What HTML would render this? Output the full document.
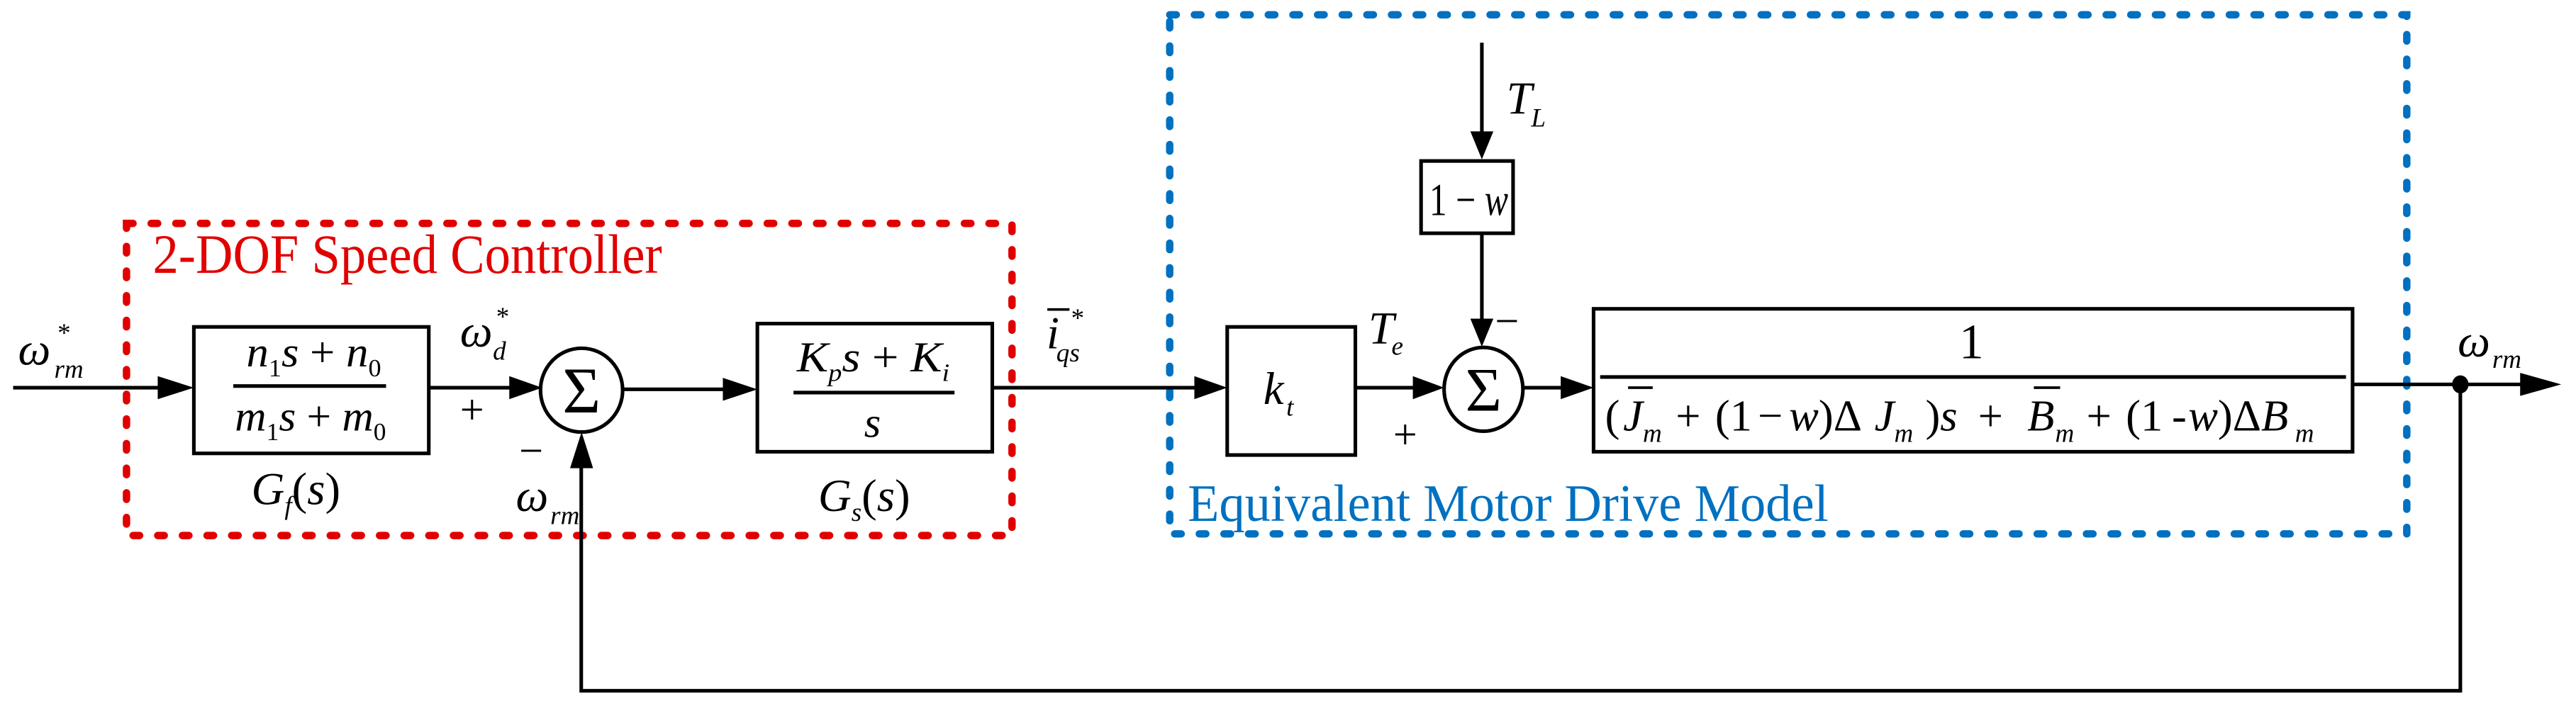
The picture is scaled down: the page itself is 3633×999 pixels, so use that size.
<!DOCTYPE html>
<html><head><meta charset="utf-8"><style>
html,body{margin:0;padding:0;background:#fff;}
svg{display:block;}
text{font-family:"Liberation Serif",serif;fill:#000;}
.i{font-style:italic;}
</style></head><body>
<svg width="3633" height="999" viewBox="0 0 1568 431" preserveAspectRatio="none" xmlns="http://www.w3.org/2000/svg">
<rect x="77" y="136" width="539" height="190" fill="none" stroke="#e00000" stroke-width="4.5" stroke-dasharray="4 11" stroke-linecap="round"/>
<rect x="712" y="9" width="753" height="316" fill="none" stroke="#0070c0" stroke-width="4.5" stroke-dasharray="4 11" stroke-linecap="round"/>
<text x="93" y="166" font-size="34" style="fill:#e00000" textLength="310" lengthAdjust="spacingAndGlyphs">2-DOF Speed Controller</text>
<text x="723" y="317" font-size="32" style="fill:#0070c0" textLength="390" lengthAdjust="spacingAndGlyphs">Equivalent Motor Drive Model</text>

<g stroke="#000" stroke-width="2.2" fill="none">
<rect x="118" y="199" width="143" height="77"/>
<rect x="461" y="197" width="143" height="78"/>
<rect x="747" y="199" width="78" height="78"/>
<rect x="865" y="98" width="56" height="44"/>
<rect x="970" y="188" width="462" height="87"/>
<line x1="142" y1="235" x2="235" y2="235"/>
<line x1="483" y1="239" x2="581" y2="239"/>
<line x1="974" y1="229.5" x2="1428" y2="229.5"/>
<ellipse cx="354" cy="237.5" rx="25" ry="25.5"/>
<ellipse cx="903" cy="237" rx="24" ry="25.5"/>
<line x1="8" y1="236" x2="100" y2="236"/>
<line x1="261" y1="236" x2="312" y2="236"/>
<line x1="379" y1="237" x2="444" y2="237"/>
<line x1="604" y1="236" x2="730" y2="236"/>
<line x1="825" y1="236" x2="862" y2="236"/>
<line x1="927" y1="236" x2="954" y2="236"/>
<line x1="1432" y1="234" x2="1538" y2="234"/>
<line x1="902" y1="26" x2="902" y2="82"/>
<line x1="902" y1="142" x2="902" y2="196"/>
<polyline points="1497.6,234 1497.6,420.5 353.8,420.5 353.8,283"/>
</g>
<g fill="#000">
<polygon points="96,229 118,236 96,243"/>
<polygon points="310,229 330,236 310,243"/>
<polygon points="440,230 461,237 440,244"/>
<polygon points="727,229 747,236 727,243"/>
<polygon points="860,229 879,236 860,243"/>
<polygon points="950,229 970,236 950,243"/>
<polygon points="1534,227 1559,234 1534,241"/>
<polygon points="895,80 902,97 909,80"/>
<polygon points="895,194 902,211 909,194"/>
<polygon points="347,285 354,263 361,285"/>
<ellipse cx="1497.6" cy="234" rx="5" ry="5.5"/>
</g>

<text x="354" y="251" font-size="40" text-anchor="middle">Σ</text>
<text x="903" y="250" font-size="38" text-anchor="middle">Σ</text>

<text class="i" x="11" y="222" font-size="28">ω</text>
<text class="i" x="33" y="230" font-size="16">rm</text>
<text x="35" y="208" font-size="16">*</text>

<text class="i" x="150" y="223" font-size="26" textLength="82" lengthAdjust="spacingAndGlyphs">n<tspan font-size="15" font-style="normal" dy="6">1</tspan><tspan dy="-6">s</tspan><tspan font-style="normal"> + </tspan>n<tspan font-size="15" font-style="normal" dy="6">0</tspan></text>
<text class="i" x="143" y="262" font-size="26" textLength="92" lengthAdjust="spacingAndGlyphs">m<tspan font-size="15" font-style="normal" dy="6">1</tspan><tspan dy="-6">s</tspan><tspan font-style="normal"> + </tspan>m<tspan font-size="15" font-style="normal" dy="6">0</tspan></text>
<text class="i" x="153" y="307" font-size="28">G<tspan font-size="16" dy="6">f</tspan><tspan font-style="normal" dy="-6">(</tspan>s<tspan font-style="normal">)</tspan></text>

<text class="i" x="280" y="211" font-size="28">ω</text>
<text class="i" x="300" y="219" font-size="16">d</text>
<text x="302" y="198" font-size="16">*</text>
<text x="280" y="258" font-size="26">+</text>
<text x="316" y="283" font-size="26">−</text>
<text class="i" x="314" y="311" font-size="28">ω</text>
<text class="i" x="335" y="319" font-size="16">rm</text>

<text class="i" x="485" y="226" font-size="26" textLength="93" lengthAdjust="spacingAndGlyphs">K<tspan font-size="15" dy="6">p</tspan><tspan dy="-6">s</tspan><tspan font-style="normal"> + </tspan>K<tspan font-size="15" dy="6">i</tspan></text>
<text class="i" x="526" y="266" font-size="26">s</text>
<text class="i" x="498" y="311" font-size="28">G<tspan font-size="16" dy="6">s</tspan><tspan font-style="normal" dy="-6">(</tspan>s<tspan font-style="normal">)</tspan></text>

<line x1="637.5" y1="188.4" x2="651" y2="188.4" stroke="#000" stroke-width="1.6"/>
<text class="i" x="637" y="212" font-size="28">i</text>
<text class="i" x="643" y="220" font-size="16">qs</text>
<text x="652" y="199" font-size="16">*</text>

<text class="i" x="769" y="246" font-size="28">k</text>
<text class="i" x="783" y="253" font-size="16">t</text>
<text class="i" x="833" y="209" font-size="28">T</text>
<text class="i" x="847" y="216" font-size="16">e</text>
<text x="848" y="273" font-size="26">+</text>
<text x="910" y="204" font-size="26">−</text>
<text class="i" x="917" y="69" font-size="28">T</text>
<text class="i" x="932" y="77" font-size="16">L</text>
<text x="870" y="131" font-size="28" textLength="48" lengthAdjust="spacingAndGlyphs">1<tspan> − </tspan><tspan font-style="italic">w</tspan></text>
<text class="i" x="1496" y="217" font-size="28">ω</text>
<text class="i" x="1517" y="224" font-size="16">rm</text>

<text x="1200" y="218" font-size="30" text-anchor="middle">1</text>
<g font-size="27">
<text x="977" y="262">(</text>
<text class="i" x="988" y="262">J</text>
<text class="i" x="1000" y="269" font-size="16">m</text>
<text x="1020" y="262">+</text>
<text x="1044" y="262">(1</text>
<text x="1070" y="262">−</text>
<text class="i" x="1089" y="262">w</text>
<text x="1107" y="262">)Δ</text>
<text class="i" x="1141" y="262">J</text>
<text class="i" x="1153" y="269" font-size="16">m</text>
<text x="1172" y="262">)<tspan font-style="italic">s</tspan></text>
<text x="1204" y="262">+</text>
<text class="i" x="1234" y="262">B</text>
<text class="i" x="1251" y="269" font-size="16">m</text>
<text x="1270" y="262">+</text>
<text x="1294" y="262">(1</text>
<text x="1322" y="262">-</text>
<text class="i" x="1332" y="262">w</text>
<text x="1350" y="262">)Δ<tspan font-style="italic">B</tspan></text>
<text class="i" x="1397" y="269" font-size="16">m</text>
</g>
<line x1="991" y1="236" x2="1006" y2="236" stroke="#000" stroke-width="1.6"/>
<line x1="1238" y1="236" x2="1254" y2="236" stroke="#000" stroke-width="1.6"/>
</svg>
</body></html>
